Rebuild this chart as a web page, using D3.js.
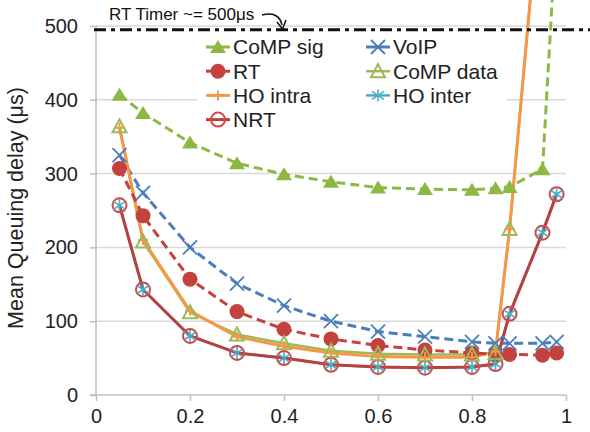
<!DOCTYPE html>
<html><head><meta charset="utf-8">
<script src="https://cdn.jsdelivr.net/npm/d3@7"></script>
<style>body{margin:0;background:#fff}svg{display:block;font-family:"Liberation Sans",Arial,sans-serif}</style>
</head><body><svg id="c" width="590" height="432"></svg>
<script>
const xValues = [0.05,0.1,0.2,0.3,0.4,0.5,0.6,0.7,0.8,0.85,0.88,0.95,0.98];
const compSig  = [407,382,342,314,299,289,281,279,278,280,282,306,640];
const rt       = [307,243,157,113,89,76,67,61,57,55,55,54,57];
const hoIntra  = [362,210,114,79,66,57,52,51,51,59,225,720,null];
const nrt      = [257,143,80,57,50,41,38,37,38,42,110,220,272];
const voip     = [325,274,200,151,121,100,86,79,72,70,70,70,72];
const compData = [364,208,112,82,70,60,56,55,55,57,225,720,null];
const hoInter  = [257,143,80,57,50,41,38,37,38,42,110,220,272];
const xTicks = [0,0.2,0.4,0.6,0.8,1];
const xTickLabels = ["0","0.2","0.4","0.6","0.8","1"];
const yTicks = [0,100,200,300,400,500];
const seriesNames = ["CoMP sig","RT","HO intra","NRT","VoIP","CoMP data","HO inter"];
const timerValue = 495;
const timerLabel = "RT Timer ~= 500\u03bcs";
const yTitle = "Mean Queuing delay (\u03bcs)";

const svg = d3.select("#c");
const x = d3.scaleLinear().domain([0,1]).range([96,566]);
const y = d3.scaleLinear().domain([0,500]).range([395,26]);

const styles = {
  "CoMP sig": {color:"#8cb843", dash:"9,5", w:3, marker:"triF", data:compSig},
  "RT": {color:"#c4423e", dash:"9,5", w:3, marker:"circF", data:rt},
  "HO intra": {color:"#f79646", dash:null, w:3, marker:"plus", data:hoIntra},
  "NRT": {color:"#b8413f", dash:null, w:3, marker:"circO", data:nrt},
  "VoIP": {color:"#4a7ebb", dash:"9,5", w:3, marker:"x", data:voip},
  "CoMP data": {color:"#9bbb59", dash:null, w:2.5, marker:"triO", data:compData},
  "HO inter": {color:"#4bacc6", dash:null, w:2.5, marker:"star", data:hoInter}
};

// gridlines
svg.append("g").selectAll("line").data(yTicks.filter(d=>d>0)).join("line")
  .attr("x1",x(0)).attr("x2",x(1)).attr("y1",d=>y(d)).attr("y2",d=>y(d))
  .attr("stroke","#d9d9d9").attr("stroke-width",1.5);

// axes
const yAxis = d3.axisLeft(y).tickValues(yTicks).tickSize(6).tickPadding(8);
const gy = svg.append("g").attr("transform",`translate(${x(0)},0)`).call(yAxis);
const xAxis = d3.axisBottom(x).tickValues(xTicks).tickFormat((d,i)=>xTickLabels[i]).tickSize(6).tickPadding(8);
const gx = svg.append("g").attr("transform",`translate(0,${y(0)})`).call(xAxis);
[gx,gy].forEach(g=>{
  g.select(".domain").attr("stroke","#bfbfbf").attr("stroke-width",1.5);
  g.selectAll(".tick line").attr("stroke","#bfbfbf").attr("stroke-width",1.5);
  g.selectAll(".tick text").attr("font-size",20).attr("fill","#222").attr("font-family","Liberation Sans, Arial, sans-serif");
});
gy.select(".domain").attr("d",`M-6,${y(0)}H0V${y(500)}`);
gx.select(".domain").attr("d",`M${x(0)-6},0H${x(1)}`);
gy.selectAll(".tick text").attr("dx",-4);

svg.append("text").attr("transform",`translate(23,208) rotate(-90)`)
  .attr("text-anchor","middle").attr("font-size",21.5).attr("fill","#222").text(yTitle);

// lines (reverse order), markers forward order
const line = d3.line().defined(d=>d[1]!=null).x(d=>x(d[0])).y(d=>y(d[1]));
const linesG = svg.append("g");
[...seriesNames].reverse().forEach(n=>{
  const s = styles[n];
  linesG.append("path").datum(xValues.map((v,i)=>[v,s.data[i]]))
    .attr("d",line).attr("fill","none").attr("stroke",s.color).attr("stroke-width",s.w)
    .attr("stroke-dasharray",s.dash).attr("stroke-linejoin","round");
});

function drawMarker(g, type, color, cx, cy){
  if(type==="triF"){
    g.append("path").attr("d",`M${cx},${cy-7}L${cx+8},${cy+6}L${cx-8},${cy+6}Z`).attr("fill",color);
  } else if(type==="triO"){
    g.append("path").attr("d",`M${cx},${cy-7}L${cx+7},${cy+6}L${cx-7},${cy+6}Z`).attr("fill","none").attr("stroke",color).attr("stroke-width",2);
  } else if(type==="circF"){
    g.append("circle").attr("cx",cx).attr("cy",cy).attr("r",7.5).attr("fill",color);
  } else if(type==="circO"){
    g.append("circle").attr("cx",cx).attr("cy",cy).attr("r",7).attr("fill","none").attr("stroke","#cf4a47").attr("stroke-width",2);
  } else if(type==="x"){
    g.append("path").attr("d",`M${cx-7},${cy-7}L${cx+7},${cy+7}M${cx-7},${cy+7}L${cx+7},${cy-7}`).attr("stroke",color).attr("stroke-width",1.8);
  } else if(type==="star"){
    g.append("path").attr("d",`M${cx-6},${cy-4}L${cx+6},${cy+4}M${cx-6},${cy+4}L${cx+6},${cy-4}M${cx},${cy-6}L${cx},${cy+6}`).attr("stroke",color).attr("stroke-width",1.6);
  } else if(type==="plus"){
    g.append("path").attr("d",`M${cx-5},${cy}L${cx+5},${cy}M${cx},${cy-5}L${cx},${cy+5}`).attr("stroke",color).attr("stroke-width",2);
  }
}
const markersG = svg.append("g");
seriesNames.forEach(n=>{
  const s = styles[n];
  xValues.forEach((v,i)=>{ if(s.data[i]!=null) drawMarker(markersG, s.marker, s.color, x(v), y(s.data[i])); });
});

// timer line
svg.append("line").attr("x1",94).attr("x2",590).attr("y1",y(timerValue)).attr("y2",y(timerValue))
  .attr("stroke","#111").attr("stroke-width",3).attr("stroke-dasharray","12,5,4,5");
svg.append("text").attr("x",109).attr("y",20).attr("font-size",17).attr("fill","#111").text(timerLabel);
svg.append("path").attr("d","M262,15 Q279,11 282,25").attr("fill","none").attr("stroke","#111").attr("stroke-width",1.5);
svg.append("path").attr("d","M277,22 L282.5,29 L286,20").attr("fill","none").attr("stroke","#111").attr("stroke-width",1.5);

// legend
svg.append("rect").attr("x",197).attr("y",33).attr("width",310).attr("height",99).attr("fill","#fff");
const leg = svg.append("g");
seriesNames.forEach((n,i)=>{
  const s = styles[n];
  const col = i<4?0:1, row = i<4?i:i-4;
  const mx = col===0?218:378, my = 47 + row*24.2;
  leg.append("line").attr("x1",mx-12).attr("x2",mx+12).attr("y1",my).attr("y2",my)
    .attr("stroke",s.color).attr("stroke-width",s.w);
  drawMarker(leg, s.marker, s.color, mx, my);
  leg.append("text").attr("x",mx+15).attr("y",my).attr("dy","0.35em").attr("font-size",21).attr("fill","#222").text(n);
});
</script></body></html>
